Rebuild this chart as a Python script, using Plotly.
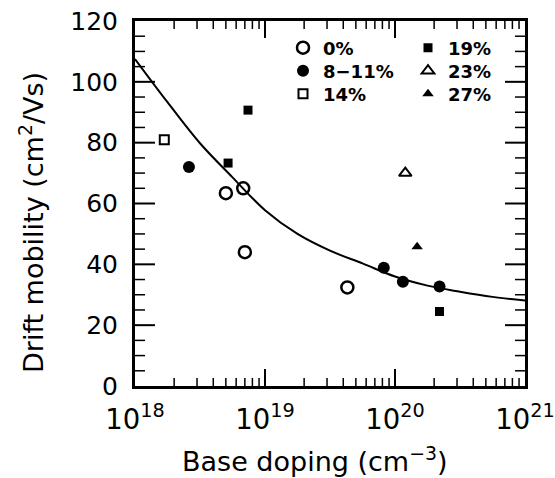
import math
import plotly.graph_objects as go

# ---- data ----
fit_x = [1e18, 10**18.25, 10**18.5, 10**18.75, 1e19, 10**19.25, 10**19.5, 10**19.75,
         1e20, 10**20.25, 10**20.5, 10**20.75, 1e21]
fit_y = [107.5, 93.3, 79.8, 68.6, 57.8, 50.0, 44.5, 40.3, 36.0, 33.0, 31.0, 29.3, 28.1]

x_0 = [5.0e18, 6.8e18, 7.0e18, 4.3e19]
y_0 = [63.4, 65.0, 44.0, 32.4]
x_8_11 = [2.6e18, 8.2e19, 1.15e20, 2.2e20]
y_8_11 = [72.0, 38.9, 34.3, 32.7]
x_14 = [1.68e18]
y_14 = [81.0]
x_19 = [5.2e18, 7.4e18, 2.2e20]
y_19 = [73.3, 90.7, 24.5]
x_23 = [1.2e20]
y_23 = [70.0]
x_27 = [1.48e20]
y_27 = [45.8]

series_names = ["0%", "8\u221211%", "14%", "19%", "23%", "27%"]
x_decades = [18, 19, 20, 21]          # tick labels 10^18 ... 10^21
y_tickvals = [0, 20, 40, 60, 80, 100, 120]
x_major = [10.0**e for e in x_decades[1:-1]]
x_minor = [float(m) * 10.0**e for e in x_decades[:-1] for m in range(2, 10)]
y_minor = [v for v in range(5, 120, 5) if v % 20]

FONT = "DejaVu Sans"
W, H = 555, 478
ML, MR, MT, MB = 135, 30, 21, 92
PW, PH = W - ML - MR, H - MT - MB
XR = [x_decades[0], x_decades[-1]]
YR = [y_tickvals[0], y_tickvals[-1]]

def px_x(p):
    return (p - ML) / PW

def px_y(p):
    return (H - MB - p) / PH

fig = go.Figure()
fig.add_trace(go.Scatter(x=fit_x, y=fit_y, mode="lines", line=dict(color="black", width=2, shape="spline"),
                         showlegend=False, hoverinfo="skip"))

# inward tick marks on all four sides, drawn as thin line traces built from the tick arrays
def x_tick_segments(vals, length_px):
    dy = length_px / PH * (YR[1] - YR[0])
    xs, ys = [], []
    for v in vals:
        xs += [v, v, None, v, v, None]
        ys += [YR[0], YR[0] + dy, None, YR[1], YR[1] - dy, None]
    return xs, ys

def y_tick_segments(vals, length_px):
    dl = length_px / PW * (XR[1] - XR[0])
    lo, hi = 10.0**XR[0], 10.0**XR[1]
    lo_in, hi_in = 10.0**(XR[0] + dl), 10.0**(XR[1] - dl)
    xs, ys = [], []
    for v in vals:
        xs += [lo, lo_in, None, hi, hi_in, None]
        ys += [v, v, None, v, v, None]
    return xs, ys

for seg, width in ((x_tick_segments(x_major, 17), 2), (x_tick_segments(x_minor, 8), 1.5),
                   (y_tick_segments(y_tickvals[1:-1], 20), 2), (y_tick_segments(y_minor, 10), 1.5)):
    fig.add_trace(go.Scatter(x=seg[0], y=seg[1], mode="lines", line=dict(color="black", width=width),
                             showlegend=False, hoverinfo="skip", connectgaps=False))

groups = [
    (x_0, y_0, series_names[0], dict(symbol="circle-open", size=12, color="black", line=dict(width=2.5, color="black")), "legend"),
    (x_8_11, y_8_11, series_names[1], dict(symbol="circle", size=12, color="black"), "legend2"),
    (x_14, y_14, series_names[2], dict(symbol="square-open", size=9, color="black", line=dict(width=2, color="black")), "legend3"),
    (x_19, y_19, series_names[3], dict(symbol="square", size=9, color="black"), "legend4"),
    (x_23, y_23, series_names[4], dict(symbol="triangle-up-open", size=11, color="black", line=dict(width=2, color="black")), "legend5"),
    (x_27, y_27, series_names[5], dict(symbol="triangle-up", size=10, color="black"), "legend6"),
]
for gx, gy, name, mk, lg in groups:
    fig.add_trace(go.Scatter(x=gx, y=gy, mode="markers", name=name, marker=mk, legend=lg))

legfont = dict(family=FONT, size=18, color="black", weight="bold")
col1_left, col2_left = 283, 408
rows = [48, 71, 94]
legs = {}
positions = [(col1_left, rows[0]), (col1_left, rows[1]), (col1_left, rows[2]),
             (col2_left, rows[0]), (col2_left, rows[1]), (col2_left, rows[2])]
for i, (lx, ly) in enumerate(positions):
    key = "legend" if i == 0 else f"legend{i+1}"
    legs[key] = dict(x=px_x(lx), y=px_y(ly), xanchor="left", yanchor="middle", bgcolor="rgba(0,0,0,0)",
                     borderwidth=0, font=legfont, itemsizing="trace")

axis_common = dict(showgrid=False, zeroline=False, showline=True, linecolor="black", linewidth=3,
                   mirror=True, ticks="", automargin=False)

fig.update_layout(
    width=W, height=H, margin=dict(l=ML, r=MR, t=MT, b=MB, autoexpand=False),
    paper_bgcolor="white", plot_bgcolor="white",
    xaxis=dict(type="log", range=XR, dtick=1, exponentformat="power", ticklabelstandoff=8,
               ticklabeloverflow="allow", tickfont=dict(family=FONT, size=22, color="black"),
               **axis_common),
    yaxis=dict(range=YR, tick0=y_tickvals[0], dtick=y_tickvals[1] - y_tickvals[0], ticklabelstandoff=9,
               tickfont=dict(family=FONT, size=25, color="black"), **axis_common),
    annotations=[
        dict(text="Base doping (cm<sup>\u22123</sup>)", xref="paper", yref="paper",
             x=px_x(315), y=px_y(459), xanchor="center", yanchor="middle", showarrow=False,
             font=dict(family=FONT, size=27, color="black")),
        dict(text="Drift mobility (cm<sup>2</sup>/Vs)", xref="paper", yref="paper",
             x=px_x(32), y=px_y(223), xanchor="center", yanchor="middle", showarrow=False, textangle=-90,
             font=dict(family=FONT, size=27, color="black")),
    ],
    **legs,
)

fig.write_html("out.html", config={"displayModeBar": False},
               post_script="document.body.style.margin='0px';")
